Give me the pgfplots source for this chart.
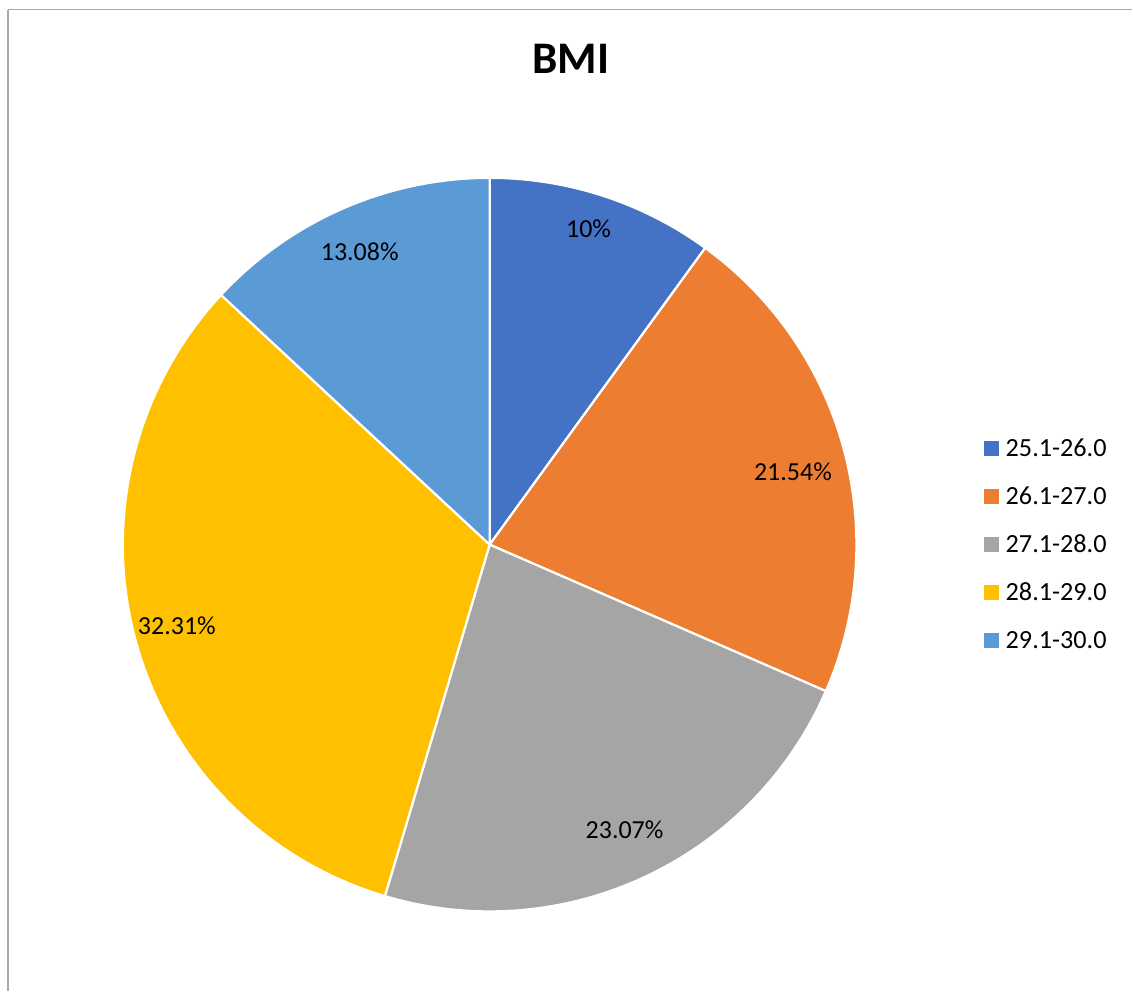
\documentclass[border=0pt]{standalone}
\usepackage{pgfplots}
\usepackage{pgfplotstable}
\usepackage{fontspec}
\setmainfont{Carlito}
\pgfplotsset{compat=1.18}
\definecolor{c1}{HTML}{4472C4}
\definecolor{c2}{HTML}{ED7D31}
\definecolor{c3}{HTML}{A5A5A5}
\definecolor{c4}{HTML}{FFC000}
\definecolor{c5}{HTML}{5B9BD5}
\definecolor{frame}{HTML}{A9A9A9}
\pgfplotstableread{
name      value lx    ly  col
25.1-26.0 10    589   229 c1
26.1-27.0 21.54 793.5 472 c2
27.1-28.0 23.07 625   830 c3
28.1-29.0 32.31 177   626 c4
29.1-30.0 13.08 360   252 c5
}\bmidata
\tikzset{
  lbl/.style={font=\fontsize{13}{15}\selectfont, inner sep=0pt, text=black},
  leg/.style={font=\fontsize{13.1}{15}\selectfont, inner sep=0pt, anchor=west, text=black},
}
\begin{document}
\begin{tikzpicture}
\begin{axis}[
  x=0.5pt, y=0.5pt, scale only axis,
  xmin=0, xmax=1133, ymin=0, ymax=992, y dir=reverse,
  hide axis, clip=false,
]
\path (axis cs:0,0) rectangle (axis cs:1133,992);
% chart area frame
\draw[frame, line width=0.8pt] (axis cs:8,9.5) -- (axis cs:1133,9.5);
\draw[frame, line width=0.8pt] (axis cs:8,9.5) -- (axis cs:8,992);
% title
\node[anchor=base, inner sep=0pt, font=\fontsize{22.6}{26}\selectfont\bfseries] at (axis cs:571,74) {BMI};
\def\astart{90}
\pgfplotsforeachungrouped \i in {0,...,4}{
  \pgfplotstablegetelem{\i}{value}\of\bmidata \let\v\pgfplotsretval
  \pgfplotstablegetelem{\i}{col}\of\bmidata \let\c\pgfplotsretval
  \pgfplotstablegetelem{\i}{name}\of\bmidata \let\nm\pgfplotsretval
  \pgfmathsetmacro\aend{\astart-3.6*\v}
  \pgfmathsetmacro\sqy{441+48*\i}
  \pgfmathsetmacro\sqyy{456+48*\i}
  \pgfmathsetmacro\ty{448.5+48*\i}
  \edef\temp{%
    \noexpand\fill[\c, draw=white, line width=1.1pt, line join=round] (axis cs:490,545) -- ++(\astart:183.5pt) arc[start angle=\astart, end angle=\aend, radius=183.5pt] -- cycle;
    \noexpand\fill[\c] (axis cs:985,\sqy) rectangle (axis cs:1000,\sqyy);
    \noexpand\node[leg] at (axis cs:1006,\ty) {\nm};
  }\temp
  \global\let\astart\aend
}
\pgfplotsforeachungrouped \i in {0,...,4}{
  \pgfplotstablegetelem{\i}{value}\of\bmidata \let\v\pgfplotsretval
  \pgfplotstablegetelem{\i}{lx}\of\bmidata \let\lx\pgfplotsretval
  \pgfplotstablegetelem{\i}{ly}\of\bmidata \let\ly\pgfplotsretval
  \edef\temp{\noexpand\node[lbl] at (axis cs:\lx,\ly) {\v\noexpand\%};}\temp
}
\end{axis}
\end{tikzpicture}
\end{document}
